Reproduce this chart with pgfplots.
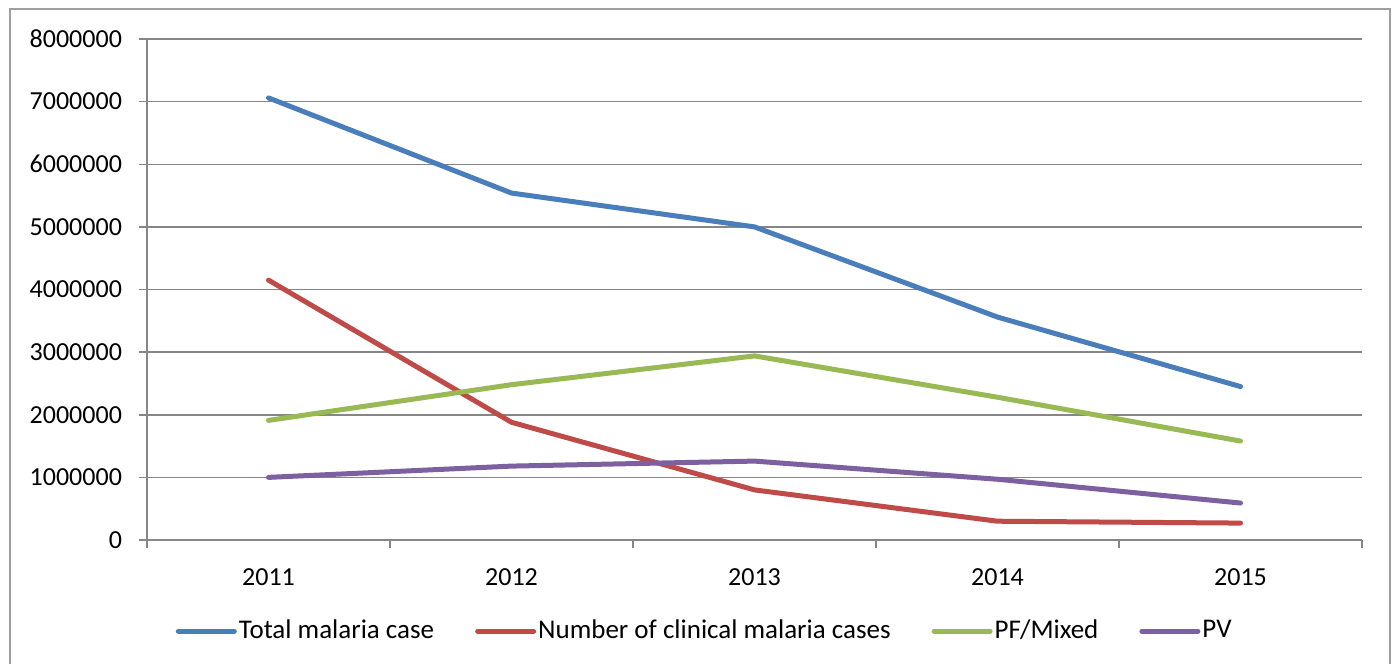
\documentclass[border=0pt]{standalone}
\usepackage{pgfplots}
\pgfplotsset{compat=1.18}
\usepackage{fontspec}
\setmainfont{Carlito}
\definecolor{cblue}{HTML}{4A7EBB}
\definecolor{cred}{HTML}{BE4B48}
\definecolor{cgreen}{HTML}{98B954}
\definecolor{cpurple}{HTML}{7D60A0}
\definecolor{cgrid}{HTML}{868686}
\begin{document}
\fontsize{13pt}{15pt}\selectfont
\begin{tikzpicture}
\useasboundingbox (-73.5pt,-62pt) rectangle (625pt,270pt);
\draw[cgrid!80, line width=0.75pt] (-68.5pt,-62pt) -- (-68.5pt,265.5pt) -- (621.5pt,265.5pt) -- (621.5pt,-62pt);
\begin{axis}[
  scale only axis,
  width=607.5pt, height=250.5pt,
  xmin=-0.5, xmax=4.5, ymin=0, ymax=8000000,
  axis x line=bottom, axis y line=left,
  axis line style={cgrid, line width=0.75pt, -},
  xtick={0,1,2,3,4},
  xticklabels={2011,2012,2013,2014,2015},
  major x tick style={draw=none},
  minor xtick={-0.5,0.5,1.5,2.5,3.5,4.5},
  minor x tick style={cgrid, line width=0.75pt},
  minor tick length=4pt,
  ytick={0,1000000,...,8000000},
  major tick length=4pt,
  ytick style={cgrid, line width=0.75pt},
  tick align=outside,
  ymajorgrids,
  grid style={cgrid, line width=0.75pt},
  scaled y ticks=false,
  /pgf/number format/fixed,
  /pgf/number format/precision=0,
  /pgf/number format/1000 sep={},
  /pgf/number format/assume math mode=true,
  yticklabel style={xshift=-4pt},
  xticklabel style={yshift=-6pt},
  tick label style={font=\fontsize{13pt}{15pt}\selectfont},
  legend style={at={(0.459,-0.182)}, anchor=center, draw=none, legend columns=4,
    font=\fontsize{13.5pt}{15pt}\selectfont,
    nodes={inner xsep=1pt},
    /tikz/every even column/.append style={column sep=19.5pt}},
  legend image code/.code={\draw[line width=2.5pt, line cap=round, #1] (0pt,0pt) -- (28pt,0pt);},
  legend cell align=left,
  every axis plot/.append style={line width=2.5pt, line cap=round, line join=round, mark=none},
  clip=false,
]
\addplot[cblue] coordinates {(0,7060000) (1,5540000) (2,5000000) (3,3560000) (4,2450000)};
\addlegendentry{Total malaria case}
\addplot[cred] coordinates {(0,4150000) (1,1880000) (2,800000) (3,300000) (4,270000)};
\addlegendentry{Number of clinical malaria cases}
\addplot[cgreen] coordinates {(0,1910000) (1,2480000) (2,2940000) (3,2280000) (4,1580000)};
\addlegendentry{PF/Mixed}
\addplot[cpurple] coordinates {(0,1000000) (1,1180000) (2,1260000) (3,970000) (4,590000)};
\addlegendentry{PV}
\end{axis}
\end{tikzpicture}
\end{document}
